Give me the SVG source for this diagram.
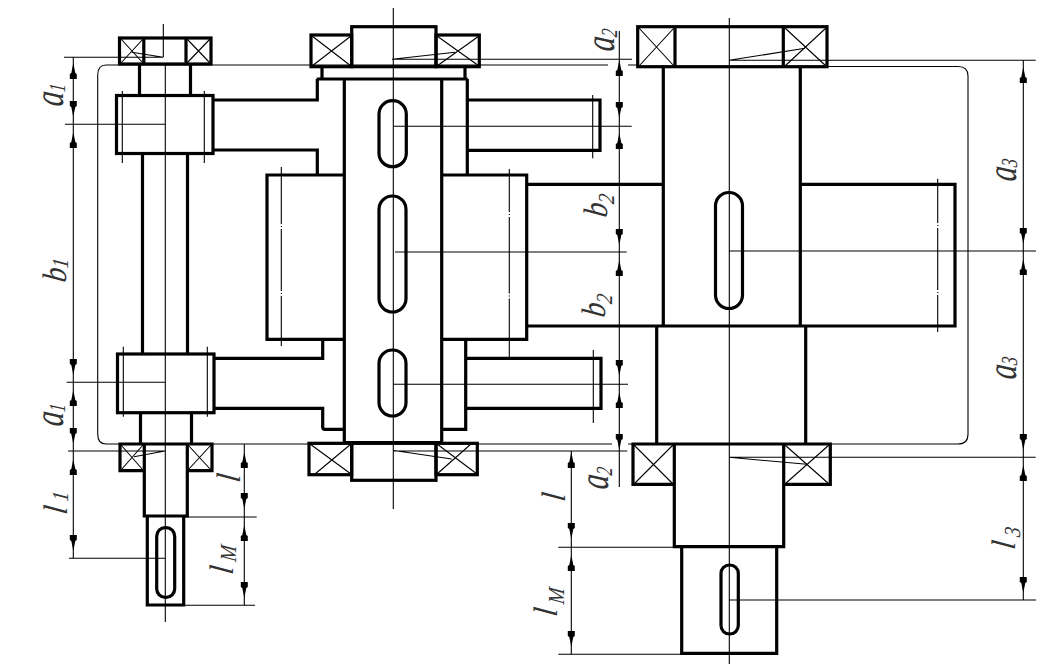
<svg xmlns="http://www.w3.org/2000/svg" width="1050" height="670" viewBox="0 0 1050 670">
<style>
.t{fill:none;stroke:#000;stroke-width:3.2;stroke-linejoin:miter}
.n{fill:none;stroke:#000;stroke-width:1.1}
.x{fill:none;stroke:#000;stroke-width:1.1}
.h{fill:none;stroke:#000;stroke-width:1.1}
.a{fill:#000;stroke:none}
text{font-family:"Liberation Serif",serif;font-style:italic;font-size:42px;fill:#333}
.k{font-size:34px}
.s{font-size:23px}
</style>
<defs>
<path id="up" class="a" d="M0,0L-2,10L-3.500,11L-3.500,16L3.500,16L3.500,11L2,10Z"/>
<path id="dn" class="a" d="M0,0L-2,-10L-3.500,-11L-3.500,-16L3.500,-16L3.500,-11L2,-10Z"/>
</defs>
<rect width="1050" height="670" fill="#fff"/>
<g id="housing"><path class="h" d="M608,65H106Q97.700,65 97.700,75V434Q97.700,444 106,444H612M628,65H638M827,66.500H958Q968,66.500 968,76V434Q968,444 958,444H830M633,444H628"/></g>

<g id="shaft-left">
<path class="t" d="M139.500,64V95M190.500,64V95M142.500,153V354M187.500,153V354M140.500,413V444M191.500,413V444"/>
</g>
<g id="bearing-left-top">
<rect class="t" x="119.500" y="38" width="91.500" height="26"/>
<path class="t" d="M143.800,38V64M186,38V64"/>
<path class="x" d="M121,39L143,63M143,39L121,63M187,39L210,63M210,39L187,63"/>
</g>
<g id="worm-left-top">
<rect class="t" x="116.500" y="95.500" width="96.500" height="58"/>
<path class="n" d="M122.300,91V163M204.300,91V163"/>
</g>
<g id="worm-left-bottom">
<rect class="t" x="117.500" y="354" width="96.500" height="58.700"/>
<path class="n" d="M123.300,346.700V416.700M207.300,346.700V416.700"/>
</g>
<g id="bearing-left-bottom">
<path class="t" d="M144.300,444H120V470.700H144.300M187.300,444H212V470.700H187.300M120,444H212"/>
<path class="x" d="M121,445L143,470M143,445L121,470M188,445L211,470M211,445L188,470"/>
</g>
<g id="shaft-left-end">
<path class="t" d="M144.300,444V516H187.300V444"/>
<path class="t" d="M147.300,516V605H183.700V516"/>
<rect class="t" x="156.700" y="527.700" width="18" height="69.600" rx="8.500"/>
</g>

<g id="housing-arm-left">
<path class="t" d="M213,100H317.300V79M213,150H317.300V175M214,358.300H322.700V339M214,408.300H322.700V427Q322.700,429.300 325,429.300H344"/>
</g>
<g id="bearing-mid-top">
<rect class="t" x="311" y="35" width="40.700" height="31.700"/>
<rect class="t" x="351.700" y="26.700" width="84.300" height="40"/>
<rect class="t" x="436" y="35" width="43.300" height="31.700"/>
<path class="x" d="M312,36L351,66M351,36L312,66M437,36L479,66M479,36L437,66"/>
<path class="t" d="M322,66.700V78M465,66.700V78M316.700,79H467.700"/>
</g>
<g id="shaft-mid">
<path class="t" d="M344.300,79V443M441.700,79V443M344,442.500H442M467.300,79V175M465.700,339V429.300H442"/>
</g>
<g id="slots-mid">
<rect class="t" x="379" y="100.700" width="27.300" height="66" rx="13.500"/>
<rect class="t" x="379" y="196" width="27" height="116" rx="13.500"/>
<rect class="t" x="379" y="350" width="27" height="66" rx="13.500"/>
</g>
<g id="gear-mid-left">
<path class="t" d="M344.500,175H267V339.300H344.500"/>
<path class="n" d="M281.300,167V224M281.300,229V291M281.300,296V346"/>
<path class="n" d="M280.800,226.500H282M280.800,293.500H282"/>
</g>
<g id="gear-mid-right">
<path class="t" d="M442,175H526.700V339.300H442"/>
<path class="n" d="M509.300,169V212M509.300,217V293.500M509.300,298.500V357"/>
<path class="n" d="M508.800,214.500H510M508.800,296H510"/>
</g>
<g id="shaft-mid-right-top">
<path class="t" d="M467,100H600V150.300H467"/>
<path class="n" d="M592.700,95V158.300"/>
</g>
<g id="shaft-mid-right-bottom">
<path class="t" d="M466,358.300H601V408.300H466"/>
<path class="n" d="M593.300,350V423"/>
</g>
<g id="bearing-mid-bottom">
<rect class="t" x="309" y="443.300" width="42.700" height="31.400"/>
<rect class="t" x="351.700" y="443.300" width="84.300" height="37"/>
<rect class="t" x="436" y="443.300" width="41.300" height="31.400"/>
<path class="x" d="M310,444L351,474M351,444L315,474M437,444L477,474M471,444L437,474"/>
</g>

<g id="bearing-right-top">
<rect class="t" x="637.700" y="26.700" width="189.300" height="40"/>
<path class="t" d="M675,26.700V66.700M783.300,26.700V66.700"/>
<path class="x" d="M639,28L674,66M674,28L639,66M785,28L826,66M826,28L785,66"/>
</g>
<g id="shaft-right">
<path class="t" d="M663.300,66.700V326M800.300,66.700V326"/>
<rect class="t" x="715.500" y="192.500" width="27" height="116" rx="13.500"/>
</g>
<g id="gear-right">
<path class="t" d="M526.700,184.300H663M800,184.300H955V326H526.700"/>
<path class="n" d="M937.700,178.700V223M937.700,228V290M937.700,295V332"/>
<path class="n" d="M937.200,225.500H938.400M937.200,292.500H938.400"/>
</g>
<g id="hub-right">
<path class="t" d="M656.700,326V444M805.700,326V444"/>
</g>
<g id="bearing-right-bottom">
<path class="t" d="M674.300,444H633V484.300H674.300M783.700,444H830.300V484.300H783.700M633,444H830"/>
<path class="x" d="M634,445L673,484M673,445L634,484M785,445L829,484M829,445L785,484"/>
</g>
<g id="shaft-right-end">
<path class="t" d="M674.300,444V546.700H783.700V444"/>
<path class="t" d="M681.700,546.700V653.300H776.700V546.700"/>
<rect class="t" x="721" y="565" width="17.300" height="69" rx="8.500"/>
</g>

<g id="connectors">
<path class="n" d="M163.300,24V57M165.300,64V622M393.300,8V509M729.300,18V664"/>
<path class="n" d="M64,57.300H163.300L131.700,52.300M65,124.300H165M66.700,382.300H165M68,451H165L134,456.700M69,558.300H165M184,517H256.700M184,605.300H255"/>
<path class="n" d="M392,59.300H632M392,59.300L455,52.300M393.700,126.300H631.700M395,252H626.700M393,384.300H628M393.700,451H627.300M394,450.500L451.700,459"/>
<path class="n" d="M729,60.300H1035.700M729,60.300L805,48.300M729,251H1036M729,457.300H1035.700M729,457.300L806.700,464.300M729,600H1036M558.300,547.300H673M558.300,654.300H682"/>
<path class="n" d="M73.300,57.300V558.300M244.300,444V605.300M619.300,31V487M571.300,451V654.300M1023.300,60V600"/>
<use href="#up" x="73.300" y="63"/><use href="#dn" x="73.300" y="117"/><use href="#up" x="73.300" y="132"/>
<use href="#dn" x="73.300" y="375"/><use href="#up" x="73.300" y="390"/><use href="#dn" x="73.300" y="444"/><use href="#up" x="73.300" y="459"/><use href="#dn" x="73.300" y="551"/>
<use href="#up" x="244.300" y="452"/><use href="#dn" x="244.300" y="509"/><use href="#up" x="244.300" y="525"/><use href="#dn" x="244.300" y="598"/>
<use href="#up" x="619.300" y="60"/><use href="#dn" x="619.300" y="118"/><use href="#up" x="619.300" y="133"/><use href="#dn" x="619.300" y="245"/><use href="#up" x="619.300" y="260"/><use href="#dn" x="619.300" y="376"/><use href="#up" x="619.300" y="392"/><use href="#dn" x="619.300" y="450"/>
<use href="#up" x="571.300" y="452"/><use href="#dn" x="571.300" y="539"/><use href="#up" x="571.300" y="555"/><use href="#dn" x="571.300" y="647"/>
<use href="#up" x="1023.300" y="67"/><use href="#dn" x="1023.300" y="244"/><use href="#up" x="1023.300" y="259"/><use href="#dn" x="1023.300" y="450"/><use href="#up" x="1023.300" y="465"/><use href="#dn" x="1023.300" y="593"/>
</g>

<g id="labels">
<text transform="translate(63,107) rotate(-90) scale(.7,1) skewX(-8)">a<tspan class="s" dy="2">1</tspan></text>
<text transform="translate(63,427) rotate(-90) scale(.7,1) skewX(-8)">a<tspan class="s" dy="2">1</tspan></text>
<text class="k" transform="translate(66,283) rotate(-90) scale(.85,1) skewX(-8)">b<tspan class="s" dy="2">1</tspan></text>
<text class="k" transform="translate(67,515) rotate(-90) scale(.85,1) skewX(-8)">l<tspan class="s" dx="6" dy="1">1</tspan></text>
<text class="k" transform="translate(240,483) rotate(-90) scale(.85,1) skewX(-8)">l</text>
<text class="k" transform="translate(233,575) rotate(-90) scale(.85,1) skewX(-8)">l<tspan class="s" dx="6" dy="3">M</tspan></text>
<text transform="translate(614,52) rotate(-90) scale(.7,1) skewX(-8)">a<tspan class="s" dy="3">2</tspan></text>
<text transform="translate(608,490) rotate(-90) scale(.7,1) skewX(-8)">a<tspan class="s" dy="4">2</tspan></text>
<text class="k" transform="translate(607,218) rotate(-90) scale(.85,1) skewX(-8)">b<tspan class="s" dy="7">2</tspan></text>
<text class="k" transform="translate(605,318) rotate(-90) scale(.85,1) skewX(-8)">b<tspan class="s" dy="7">2</tspan></text>
<text transform="translate(1016,182) rotate(-90) scale(.7,1) skewX(-8)">a<tspan class="s" dy="1">3</tspan></text>
<text transform="translate(1016,380) rotate(-90) scale(.7,1) skewX(-8)">a<tspan class="s" dy="1">3</tspan></text>
<text class="k" transform="translate(1015,550) rotate(-90) scale(.85,1) skewX(-8)">l<tspan class="s" dx="6" dy="5">3</tspan></text>
<text class="k" transform="translate(565,502) rotate(-90) scale(.85,1) skewX(-8)">l</text>
<text class="k" transform="translate(557,617) rotate(-90) scale(.85,1) skewX(-8)">l<tspan class="s" dx="6" dy="7">M</tspan></text>
</g>
</svg>
